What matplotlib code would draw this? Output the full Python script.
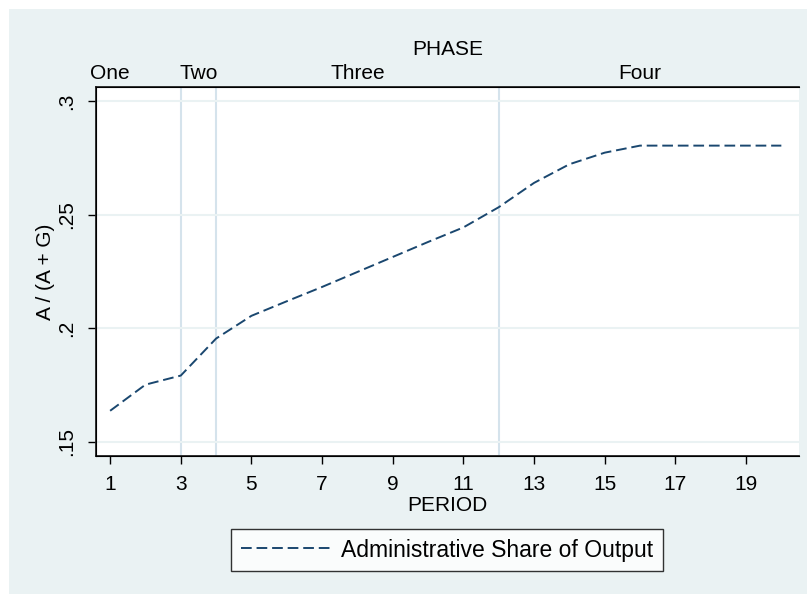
import matplotlib.pyplot as plt
from matplotlib.patches import Rectangle

plt.rcParams['font.family'] = ['Liberation Sans', 'DejaVu Sans']

# Data
period = [1, 2, 3, 4, 5, 6, 7, 8, 9, 10, 11, 12, 13, 14, 15, 16, 17, 18, 19, 20]
share = [0.1637, 0.1752, 0.1792, 0.1955, 0.2055, 0.2119, 0.2182, 0.2248, 0.2314,
         0.2380, 0.2444, 0.2533, 0.2640, 0.2722, 0.2773, 0.2804, 0.2804, 0.2804,
         0.2804, 0.2804]
x_ticks = [1, 3, 5, 7, 9, 11, 13, 15, 17, 19]
y_ticks = [0.15, 0.2, 0.25, 0.3]
y_labels = [".15", ".2", ".25", ".3"]
phase_pos = [1, 3.5, 8, 16]
phase_names = ["One", "Two", "Three", "Four"]
phase_breaks = [3, 4, 12]

W, H = 807, 594
BG = "#EAF2F3"
NAVY = "#1A476F"
FS = 15

fig = plt.figure(figsize=(W / 100, H / 100), dpi=100, facecolor="white")
fig.add_artist(Rectangle((9 / W, 0), 1 - 9 / W, 1 - 9 / H, transform=fig.transFigure,
                         facecolor=BG, edgecolor="none", zorder=-5))

ax = fig.add_axes([96 / W, 1 - 456 / H, (799 - 96) / W, (456 - 87) / H])
ax.set_facecolor("white")

for b in phase_breaks:
    ax.axvline(b, color="#D5E3EC", lw=1.5, zorder=1)
for yv in y_ticks:
    ax.axhline(yv, color="#EAF2F3", lw=1.5, zorder=1)

line, = ax.plot(period, share, color=NAVY, lw=1.4, dashes=(5.5, 2.5), zorder=3,
                label="Administrative Share of Output")

ax.set_xlim(0.6, 20.5)
ax.set_ylim(0.1438, 0.3062)
ax.set_xticks(x_ticks)
ax.set_yticks(y_ticks)
ax.set_yticklabels(y_labels, rotation=90, va="center")
ax.tick_params(axis="both", labelsize=FS, length=6, width=1, color="black")
ax.tick_params(axis="x", pad=8)
ax.tick_params(axis="y", pad=8)
ax.set_xlabel("PERIOD", fontsize=FS, labelpad=1)
ax.set_ylabel("A / (A + G)", fontsize=FS, labelpad=2)

for s in ["left", "bottom", "top"]:
    ax.spines[s].set_color("#222222")
    ax.spines[s].set_linewidth(1.3)
ax.spines["right"].set_visible(False)

top = ax.twiny()
top.set_xlim(ax.get_xlim())
top.set_xticks(phase_pos)
top.set_xticklabels(phase_names)
top.tick_params(axis="x", length=0, labelsize=FS, pad=3)
top.set_xlabel("PHASE", fontsize=FS, labelpad=6)
top.spines["right"].set_visible(False)

leg = fig.legend(handles=[line], loc="center", bbox_to_anchor=(447 / W, 1 - 550 / H),
                 fontsize=16.5, handlelength=3.9, frameon=True, fancybox=False,
                 borderpad=0.4, handletextpad=0.5)
leg.get_frame().set_edgecolor("black")
leg.get_frame().set_linewidth(1.0)

fig.savefig("out.png", dpi=100, facecolor="white")
